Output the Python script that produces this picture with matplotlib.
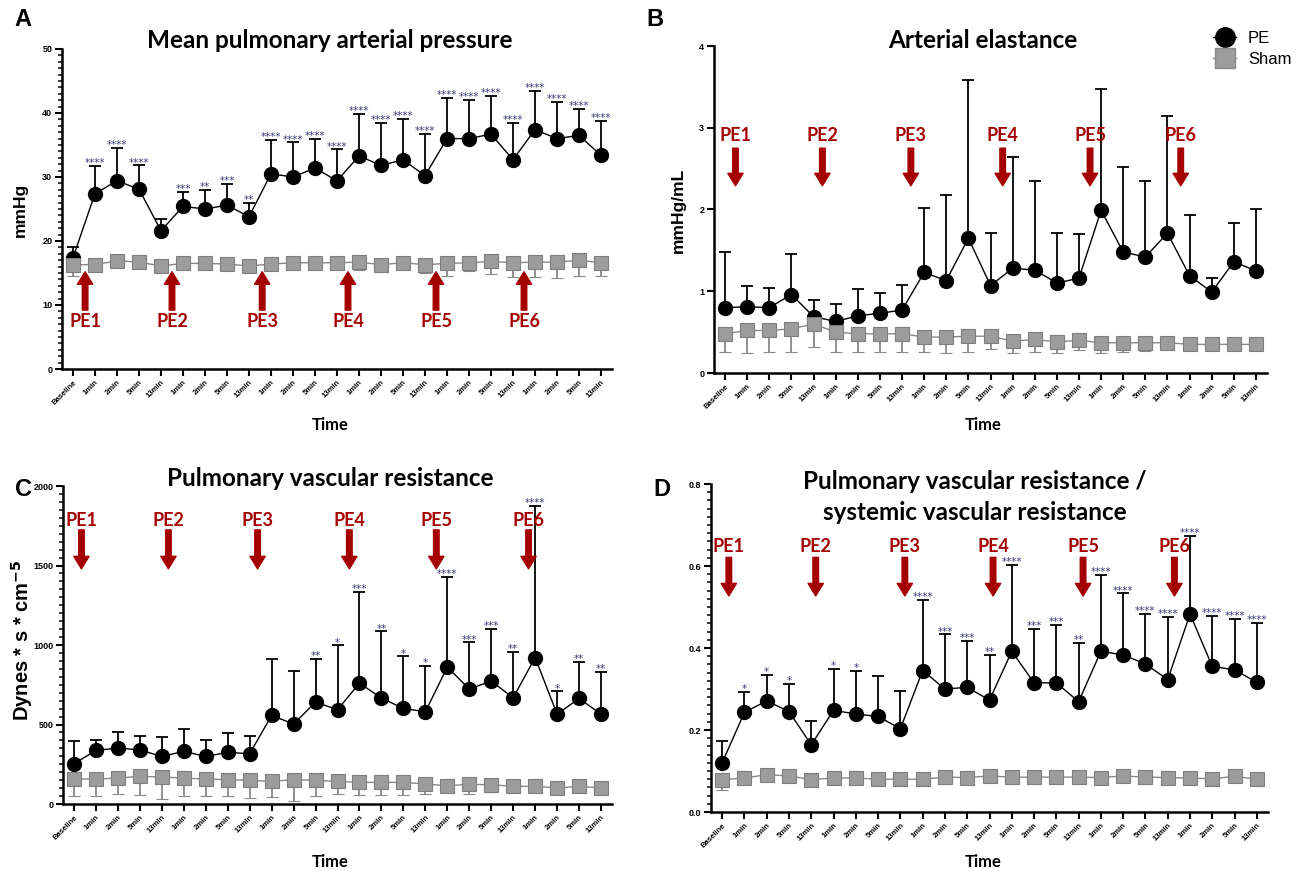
import matplotlib
matplotlib.use('Agg')
import matplotlib.pyplot as plt
from matplotlib.lines import Line2D
from matplotlib.ticker import MultipleLocator

W, H = 1308, 871
RED = '#a50000'
STAR = '#3c3c78'

time_labels = ['Baseline'] + ['1min', '2min', '5min', '13min'] * 6
pe_labels = ['PE1', 'PE2', 'PE3', 'PE4', 'PE5', 'PE6']

# A - mean pulmonary arterial pressure (mmHg)
mpap_pe = [17.4, 27.4, 29.4, 28.1, 21.6, 25.4, 25.0, 25.6, 23.8, 30.5, 30.0, 31.4, 29.4,
           33.3, 31.8, 32.7, 30.2, 36.0, 36.0, 36.7, 32.7, 37.4, 36.0, 36.5, 33.4]
mpap_pe_sd = [1.6, 4.3, 5.2, 3.7, 1.9, 2.3, 3.0, 3.3, 2.2, 5.3, 5.4, 4.5, 4.9,
              6.6, 6.6, 6.4, 6.5, 6.4, 6.1, 6.0, 5.8, 6.0, 5.7, 4.2, 5.4]
mpap_sham = [16.3, 16.3, 16.9, 16.7, 16.1, 16.5, 16.5, 16.4, 16.1, 16.4, 16.6, 16.6, 16.6,
             16.7, 16.3, 16.6, 16.3, 16.5, 16.6, 16.8, 16.6, 16.7, 16.7, 17.0, 16.6]
mpap_sham_sd = [1.7, 0.3, 0.9, 0.3, 0.3, 0.3, 0.3, 0.3, 0.3, 0.3, 1.0, 0.4, 0.4,
                1.2, 0.9, 1.0, 1.3, 1.9, 1.3, 1.9, 2.2, 2.3, 2.5, 2.4, 2.1]
mpap_stars = ['', '****', '****', '****', '', '***', '**', '***', '**'] + ['****'] * 16

# B - arterial elastance (mmHg/mL)
ea_pe = [0.80, 0.81, 0.80, 0.96, 0.69, 0.63, 0.70, 0.73, 0.77, 1.23, 1.13, 1.65, 1.07,
         1.28, 1.26, 1.10, 1.16, 1.99, 1.48, 1.42, 1.71, 1.19, 0.99, 1.36, 1.25]
ea_pe_sd = [0.68, 0.25, 0.24, 0.50, 0.20, 0.21, 0.33, 0.25, 0.31, 0.79, 1.05, 1.94, 0.64,
            1.36, 1.09, 0.61, 0.54, 1.49, 1.04, 0.93, 1.43, 0.74, 0.17, 0.47, 0.76]
ea_sham = [0.48, 0.52, 0.52, 0.54, 0.60, 0.50, 0.48, 0.48, 0.48, 0.44, 0.44, 0.45, 0.45,
           0.39, 0.41, 0.38, 0.40, 0.37, 0.37, 0.37, 0.37, 0.35, 0.35, 0.35, 0.35]
ea_sham_sd = [0.22, 0.28, 0.26, 0.28, 0.28, 0.24, 0.22, 0.22, 0.22, 0.18, 0.19, 0.19, 0.16,
              0.15, 0.15, 0.14, 0.12, 0.12, 0.11, 0.10, 0.03, 0.03, 0.02, 0.02, 0.02]
ea_stars = [''] * 25

# C - pulmonary vascular resistance (dynes*s*cm-5)
pvr_pe = [253, 337, 352, 340, 299, 331, 299, 325, 316, 557, 503, 641, 593,
          760, 666, 601, 580, 861, 723, 773, 668, 921, 565, 664, 565]
pvr_pe_sd = [142, 68, 103, 90, 121, 139, 106, 120, 109, 356, 335, 274, 404,
             576, 419, 327, 289, 569, 293, 326, 291, 951, 143, 228, 264]
pvr_sham = [157, 157, 163, 174, 170, 163, 157, 153, 149, 142, 153, 149, 142,
            136, 136, 136, 126, 115, 124, 121, 111, 111, 101, 111, 101]
pvr_sham_sd = [109, 105, 98, 115, 136, 111, 109, 105, 113, 98, 132, 101, 77,
               81, 77, 81, 61, 42, 59, 46, 15, 12, 10, 38, 10]
pvr_stars = [''] * 11 + ['**', '*', '***', '**', '*', '*', '****', '***', '***',
                         '**', '****', '*', '**', '**']

# D - PVR / SVR ratio
ratio_pe = [0.120, 0.243, 0.271, 0.245, 0.164, 0.248, 0.239, 0.233, 0.203, 0.345, 0.300,
            0.304, 0.273, 0.392, 0.315, 0.315, 0.269, 0.392, 0.383, 0.361, 0.323, 0.483,
            0.355, 0.347, 0.316]
ratio_pe_sd = [0.053, 0.050, 0.064, 0.068, 0.058, 0.102, 0.104, 0.098, 0.093, 0.172, 0.133,
               0.114, 0.111, 0.211, 0.132, 0.141, 0.143, 0.186, 0.150, 0.121, 0.152, 0.191,
               0.123, 0.123, 0.144]
ratio_sham = [0.079, 0.083, 0.091, 0.088, 0.079, 0.083, 0.083, 0.080, 0.080, 0.080, 0.085,
              0.084, 0.088, 0.085, 0.085, 0.085, 0.085, 0.084, 0.088, 0.085, 0.084, 0.083,
              0.081, 0.087, 0.080]
ratio_sham_sd = [0.026, 0.005, 0.006, 0.016, 0.014, 0.004, 0.004, 0.004, 0.004, 0.004, 0.004,
                 0.004, 0.004, 0.004, 0.004, 0.004, 0.004, 0.004, 0.004, 0.004, 0.004, 0.004,
                 0.014, 0.004, 0.017]
ratio_stars = ['', '*', '*', '*', '', '*', '*', '', '', '****', '***', '***', '**',
               '****', '***', '***', '**', '****', '****', '****', '****', '****',
               '****', '****', '****']


def px_rect(x0, y0, x1, y1):
    return [x0 / W, 1 - y1 / H, (x1 - x0) / W, (y1 - y0) / H]


def ftext(x, y, s, **kw):
    fig.text(x / W, 1 - y / H, s, **kw)


def draw_panel(ax, pe, pe_sd, sham, sham_sd, stars, ymax, major, minor, fmt):
    x = list(range(len(pe)))
    zero = [0] * len(pe)
    ax.errorbar(x, pe, yerr=[zero, pe_sd], fmt='-o', color='black', lw=1.0, ms=10,
                elinewidth=1.3, capsize=4.5, capthick=1.3, zorder=3)
    ax.errorbar(x, sham, yerr=[sham_sd, zero], fmt='-s', color='#888888', lw=1.0, ms=9.5,
                mfc='#9c9c9c', mec='#7d7d7d', mew=0.8, ecolor='#888888',
                elinewidth=1.3, capsize=4.5, capthick=1.3, zorder=4)
    for i, s in enumerate(stars):
        if s:
            ax.annotate(s, (i, pe[i] + pe_sd[i]), xytext=(0, -1.5), textcoords='offset points',
                        ha='center', va='bottom', fontsize=7.5, color=STAR)
    ax.set_xlim(-0.5, 24.5)
    ax.set_ylim(0, ymax)
    ax.set_xticks(x)
    ax.set_xticklabels(time_labels, rotation=45, ha='right', va='top',
                       rotation_mode='anchor', fontsize=5.5, fontweight='bold',
                       family='Liberation Sans')
    ax.yaxis.set_major_locator(MultipleLocator(major))
    if minor:
        ax.yaxis.set_minor_locator(MultipleLocator(minor))
    ax.yaxis.set_major_formatter(fmt)
    for lab in ax.get_yticklabels():
        lab.set_fontsize(6.5)
        lab.set_fontweight('bold')
        lab.set_family('Liberation Sans')
    for sp in ['top', 'right']:
        ax.spines[sp].set_visible(False)
    for sp in ['left', 'bottom']:
        ax.spines[sp].set_linewidth(1.8)
    ax.tick_params(which='major', length=5, width=1.5, pad=2)
    ax.tick_params(which='minor', length=3, width=1.1)
    ax.tick_params(axis='x', which='minor', length=0)


def draw_arrows(ax, xs, tip, base, label_y):
    for xp, lab in zip(xs, pe_labels):
        ax.annotate('', xy=(xp, tip), xytext=(xp, base),
                    arrowprops=dict(facecolor=RED, edgecolor=RED, width=4, headwidth=11,
                                    headlength=9, shrink=0))
        ax.text(xp, label_y, lab, ha='center', va='center', color=RED, fontsize=13,
                fontweight='bold', family='Lato')


fig = plt.figure(figsize=(W / 100, H / 100), dpi=100)

axA = fig.add_axes(px_rect(62, 49, 612, 369))
axB = fig.add_axes(px_rect(714, 46, 1267, 373))
axC = fig.add_axes(px_rect(63, 486, 612, 804))
axD = fig.add_axes(px_rect(711, 484, 1268, 812))

draw_panel(axA, mpap_pe, mpap_pe_sd, mpap_sham, mpap_sham_sd, mpap_stars, 50, 10, 1, '{x:.0f}')
draw_panel(axB, ea_pe, ea_pe_sd, ea_sham, ea_sham_sd, ea_stars, 4, 1, None, '{x:.0f}')
draw_panel(axC, pvr_pe, pvr_pe_sd, pvr_sham, pvr_sham_sd, pvr_stars, 2000, 500, 50, '{x:.0f}')
draw_panel(axD, ratio_pe, ratio_pe_sd, ratio_sham, ratio_sham_sd, ratio_stars, 0.8, 0.2, 0.02,
           '{x:.1f}')

draw_arrows(axA, [0.55, 4.5, 8.6, 12.5, 16.5, 20.5], 15.2, 9.2, 7.4)
draw_arrows(axB, [0.47, 4.4, 8.4, 12.55, 16.5, 20.6], 2.29, 2.75, 2.9)
draw_arrows(axC, [0.34, 4.3, 8.36, 12.54, 16.5, 20.7], 1479, 1724, 1786)
draw_arrows(axD, [0.3, 4.2, 8.2, 12.16, 16.2, 20.3], 0.527, 0.621, 0.648)

title_kw = dict(ha='center', va='center', fontsize=17.5, fontweight='bold', family='Lato')
ftext(330, 40, 'Mean pulmonary arterial pressure', **title_kw)
ftext(983, 40, 'Arterial elastance', **title_kw)
ftext(330, 478, 'Pulmonary vascular resistance', **title_kw)
ftext(975, 481, 'Pulmonary vascular resistance /', **title_kw)
ftext(975, 512, 'systemic vascular resistance', **title_kw)

letter_kw = dict(ha='center', va='center', fontsize=17, fontweight='bold', family='Liberation Sans')
ftext(23, 20, 'A', **letter_kw)
ftext(655, 20, 'B', **letter_kw)
ftext(23, 490, 'C', **letter_kw)
ftext(662, 490, 'D', **letter_kw)

time_kw = dict(ha='center', va='center', fontsize=12, fontweight='bold', family='Lato')
for xx, yy in [(330, 425), (983, 425), (330, 862), (983, 862)]:
    ftext(xx, yy, 'Time', **time_kw)

ylab_kw = dict(ha='center', va='center', rotation=90, fontsize=12.5, fontweight='bold',
               family='Liberation Sans')
ftext(20, 210, 'mmHg', **ylab_kw)
ftext(678, 210, 'mmHg/mL', **ylab_kw)
ftext(22, 640, r'Dynes * s * cm$^{\mathbf{-5}}$',
      **dict(ylab_kw, fontsize=14.5))

handles = [
    Line2D([0], [0], color='black', marker='o', ms=14, lw=1),
    Line2D([0], [0], color='#888888', marker='s', ms=14, mfc='#9c9c9c', mec='#8a8a8a', lw=1),
]
fig.legend(handles, ['PE', 'Sham'], loc='upper left', bbox_to_anchor=(1198 / W, 1 - 16 / H),
           frameon=False, handlelength=1.4, handletextpad=0.7, labelspacing=0.35,
           prop=dict(family='Liberation Sans', size=12))

fig.savefig('out.png', dpi=100)
